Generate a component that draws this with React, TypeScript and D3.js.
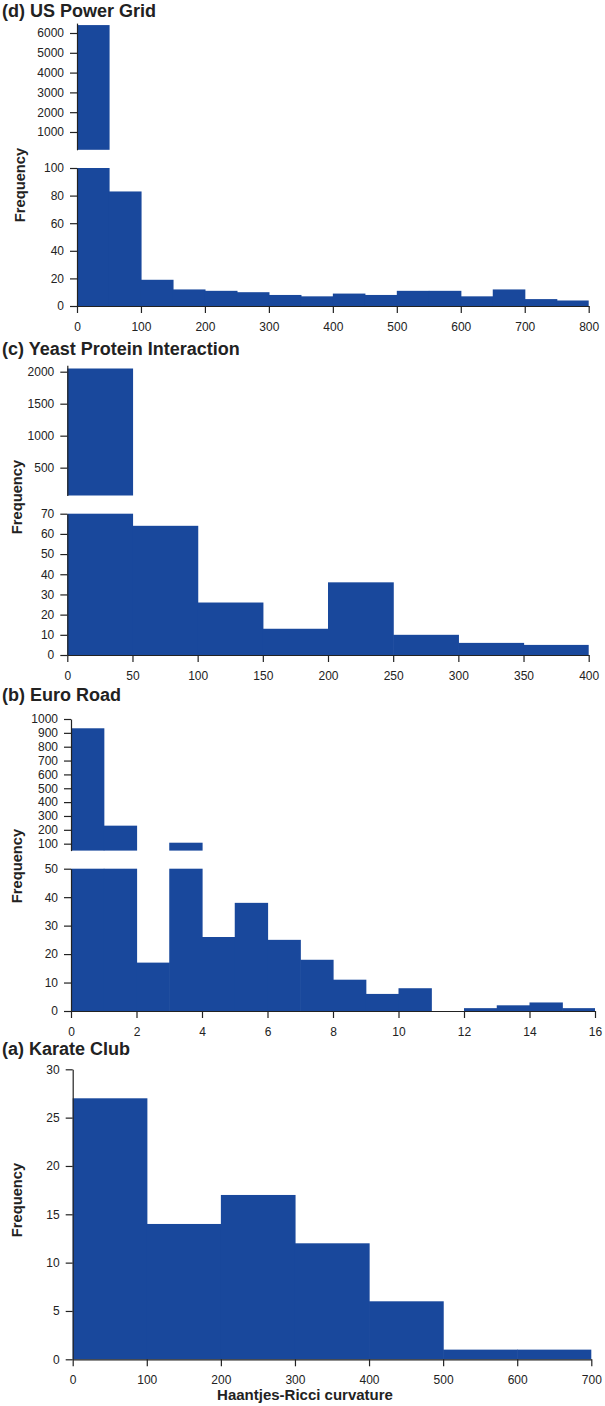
import React, { useEffect, useRef } from "react";
import * as d3 from "d3";

// ---- Histogram data (bin starts, counts, tick values) ----
const powerGridBinStarts = [0, 50, 100, 150, 200, 250, 300, 350, 400, 450, 500, 550, 600, 650, 700, 750];
const powerGridCounts = [6400, 83, 19, 12, 11, 10, 8, 7, 9, 8, 11, 11, 7, 12, 5, 4];
const powerGridXTicks = [0, 100, 200, 300, 400, 500, 600, 700, 800];
const powerGridLowTicks = [0, 20, 40, 60, 80, 100];
const powerGridHighTicks = [1000, 2000, 3000, 4000, 5000, 6000];

const yeastBinStarts = [0, 50, 100, 150, 200, 250, 300, 350];
const yeastCounts = [2050, 64, 26, 13, 36, 10, 6, 5];
const yeastXTicks = [0, 50, 100, 150, 200, 250, 300, 350, 400];
const yeastLowTicks = [0, 10, 20, 30, 40, 50, 60, 70];
const yeastHighTicks = [500, 1000, 1500, 2000];

const euroRoadBinStarts = [0, 1, 2, 3, 4, 5, 6, 7, 8, 9, 10, 11, 12, 13, 14, 15];
const euroRoadCounts = [933, 230, 17, 107, 26, 38, 25, 18, 11, 6, 8, 0, 1, 2, 3, 1];
const euroRoadXTicks = [0, 2, 4, 6, 8, 10, 12, 14, 16];
const euroRoadLowTicks = [0, 10, 20, 30, 40, 50];
const euroRoadHighTicks = [100, 200, 300, 400, 500, 600, 700, 800, 900, 1000];

const karateBinStarts = [0, 100, 200, 300, 400, 500, 600];
const karateCounts = [27, 14, 17, 12, 6, 1, 1];
const karateXTicks = [0, 100, 200, 300, 400, 500, 600, 700];
const karateTicks = [0, 5, 10, 15, 20, 25, 30];

type Panel = {
  title: string;
  binStarts: number[];
  binWidth: number;
  counts: number[];
  xDomain: [number, number];
  xTicks: number[];
  lowDomain: [number, number];
  lowTicks: number[];
  highDomain?: [number, number];
  highTicks?: number[];
  // layout
  titleY: number;
  xRange: [number, number];
  lowRange: [number, number];
  highRange?: [number, number];
  freqX: number;
  freqY: number;
};

const panels: Panel[] = [
  {
    title: "(d) US Power Grid",
    binStarts: powerGridBinStarts, binWidth: 50, counts: powerGridCounts,
    xDomain: [0, 800], xTicks: powerGridXTicks,
    lowDomain: [0, 100], lowTicks: powerGridLowTicks,
    highDomain: [100, 6500], highTicks: powerGridHighTicks,
    titleY: 17, xRange: [77, 588.7], lowRange: [306, 168], highRange: [149.8, 23.1],
    freqX: 25, freqY: 185,
  },
  {
    title: "(c) Yeast Protein Interaction",
    binStarts: yeastBinStarts, binWidth: 50, counts: yeastCounts,
    xDomain: [0, 400], xTicks: yeastXTicks,
    lowDomain: [0, 70], lowTicks: yeastLowTicks,
    highDomain: [65, 2100], highTicks: yeastHighTicks,
    titleY: 355, xRange: [67.3, 588.7], lowRange: [655, 513.7], highRange: [495.5, 365.3],
    freqX: 22, freqY: 497,
  },
  {
    title: "(b) Euro Road",
    binStarts: euroRoadBinStarts, binWidth: 1, counts: euroRoadCounts,
    xDomain: [0, 16], xTicks: euroRoadXTicks,
    lowDomain: [0, 50], lowTicks: euroRoadLowTicks,
    highDomain: [50, 1000], highTicks: euroRoadHighTicks,
    titleY: 701, xRange: [71, 595], lowRange: [1011, 868.7], highRange: [850.6, 719],
    freqX: 22, freqY: 866,
  },
  {
    title: "(a) Karate Club",
    binStarts: karateBinStarts, binWidth: 100, counts: karateCounts,
    xDomain: [0, 700], xTicks: karateXTicks,
    lowDomain: [0, 30], lowTicks: karateTicks,
    titleY: 1055, xRange: [72.7, 591.3], lowRange: [1359.3, 1069.3],
    freqX: 21.5, freqY: 1200,
  },
];

const BAR = "#19489c";
const INK = "#222";
const FONT = "'Liberation Sans', Arial, Helvetica, sans-serif";
// small overlap so neighbouring bars don't show anti-aliased seams
const SEAM = 0.6;

export default function App() {
  const ref = useRef<SVGSVGElement | null>(null);

  useEffect(() => {
    document.body.style.margin = "0";
    const svg = d3.select(ref.current);
    svg.selectAll("*").remove();

    const styleAxis = (g: d3.Selection<SVGGElement, unknown, null, undefined>) => {
      g.selectAll("path.domain").attr("stroke", INK).attr("stroke-width", 1.2);
      g.selectAll(".tick line").attr("stroke", INK).attr("stroke-width", 1.2);
      g.selectAll(".tick text")
        .attr("fill", INK)
        .style("font-family", FONT)
        .style("font-size", "12px");
    };

    panels.forEach((p) => {
      const g = svg.append("g");
      const x = d3.scaleLinear().domain(p.xDomain).range(p.xRange);
      const yLow = d3.scaleLinear().domain(p.lowDomain).range(p.lowRange);
      const yHigh = p.highDomain && p.highRange
        ? d3.scaleLinear().domain(p.highDomain).range(p.highRange)
        : null;

      const last = p.binStarts.length - 1;
      const bins = p.binStarts.map((s, i) => ({ i, x0: s, x1: s + p.binWidth, n: p.counts[i] }));
      const barW = (b: { i: number; x0: number; x1: number }) =>
        x(b.x1) - x(b.x0) + (b.i < last ? SEAM : 0);

      // lower section bars, clipped at the section's top value
      g.append("g")
        .selectAll("rect")
        .data(bins.filter((b) => b.n > 0))
        .join("rect")
        .attr("x", (b) => x(b.x0))
        .attr("width", barW)
        .attr("y", (b) => yLow(Math.min(b.n, p.lowDomain[1])))
        .attr("height", (b) => yLow(0) - yLow(Math.min(b.n, p.lowDomain[1])))
        .attr("fill", BAR);

      // upper (broken-axis) section bars
      if (yHigh && p.highDomain) {
        const lo = p.highDomain[0];
        g.append("g")
          .selectAll("rect")
          .data(bins.filter((b) => b.n > lo))
          .join("rect")
          .attr("x", (b) => x(b.x0))
          .attr("width", barW)
          .attr("y", (b) => yHigh(b.n))
          .attr("height", (b) => yHigh(lo) - yHigh(b.n))
          .attr("fill", BAR);

        g.append("g")
          .attr("transform", `translate(${x(0)},0)`)
          .call(d3.axisLeft(yHigh).tickValues(p.highTicks!).tickSizeInner(7).tickSizeOuter(0).tickPadding(6).tickFormat(d3.format("d")))
          .call(styleAxis);
      }

      g.append("g")
        .attr("transform", `translate(${x(0)},0)`)
        .call(d3.axisLeft(yLow).tickValues(p.lowTicks).tickSizeInner(7).tickSizeOuter(0).tickPadding(6).tickFormat(d3.format("d")))
        .call(styleAxis);

      g.append("g")
        .attr("transform", `translate(0,${yLow(0)})`)
        .call(d3.axisBottom(x).tickValues(p.xTicks).tickSizeInner(7).tickSizeOuter(0).tickPadding(9).tickFormat(d3.format("d")))
        .call(styleAxis);

      g.append("text")
        .attr("x", 2)
        .attr("y", p.titleY)
        .attr("fill", INK)
        .style("font-family", FONT)
        .style("font-weight", "bold")
        .style("font-size", "18px")
        .text(p.title);

      g.append("text")
        .attr("transform", `translate(${p.freqX},${p.freqY}) rotate(-90)`)
        .attr("text-anchor", "middle")
        .attr("fill", INK)
        .style("font-family", FONT)
        .style("font-weight", "bold")
        .style("font-size", "14.7px")
        .text("Frequency");
    });

    svg.append("text")
      .attr("x", 305)
      .attr("y", 1400)
      .attr("text-anchor", "middle")
      .attr("fill", INK)
      .style("font-family", FONT)
      .style("font-weight", "bold")
      .style("font-size", "15px")
      .text("Haantjes-Ricci curvature");
  }, []);

  return (
    <svg
      ref={ref}
      width={605}
      height={1406}
      style={{ position: "absolute", left: 0, top: 0, display: "block", background: "#fff" }}
    />
  );
}
